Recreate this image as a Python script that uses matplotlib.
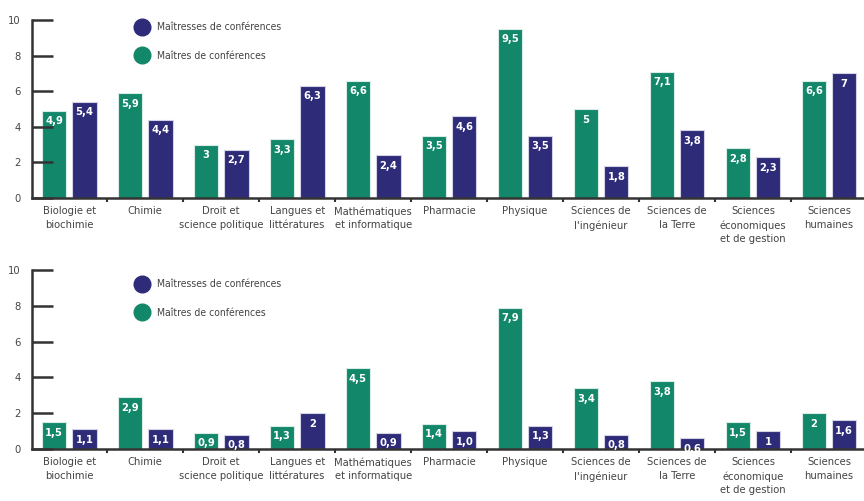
import numpy as np
from matplotlib import pyplot as plt
from matplotlib.lines import Line2D

plt.rcParams['font.family'] = ['DejaVu Sans']
plt.rcParams['font.stretch'] = 'condensed'

categories_top = [
    "Biologie et\nbiochimie", "Chimie", "Droit et\nscience politique",
    "Langues et\nlittératures", "Mathématiques\net informatique",
    "Pharmacie", "Physique", "Sciences de\nl'ingénieur",
    "Sciences de\nla Terre", "Sciences\néconomiques\net de gestion",
    "Sciences\nhumaines",
]
categories_bottom = categories_top[:9] + [
    "Sciences\néconomique\net de gestion", "Sciences\nhumaines"]

maitres_top = [4.9, 5.9, 3.0, 3.3, 6.6, 3.5, 9.5, 5.0, 7.1, 2.8, 6.6]
maitresses_top = [5.4, 4.4, 2.7, 6.3, 2.4, 4.6, 3.5, 1.8, 3.8, 2.3, 7.0]
maitres_top_lbl = ["4,9", "5,9", "3", "3,3", "6,6", "3,5", "9,5", "5",
                   "7,1", "2,8", "6,6"]
maitresses_top_lbl = ["5,4", "4,4", "2,7", "6,3", "2,4", "4,6", "3,5",
                      "1,8", "3,8", "2,3", "7"]

maitres_bot = [1.5, 2.9, 0.9, 1.3, 4.5, 1.4, 7.9, 3.4, 3.8, 1.5, 2.0]
maitresses_bot = [1.1, 1.1, 0.8, 2.0, 0.9, 1.0, 1.3, 0.8, 0.6, 1.0, 1.6]
maitres_bot_lbl = ["1,5", "2,9", "0,9", "1,3", "4,5", "1,4", "7,9", "3,4",
                   "3,8", "1,5", "2"]
maitresses_bot_lbl = ["1,1", "1,1", "0,8", "2", "0,9", "1,0", "1,3", "0,8",
                      "0,6", "1", "1,6"]

GREEN = "#13876a"
NAVY = "#2e2b78"
AXC = "#333333"
TXT = "#444444"

fig = plt.figure(figsize=(8.64, 5.01), dpi=100)
ax1 = fig.add_axes([32 / 864, 1 - 198 / 501, 1 - 32 / 864, 178 / 501])
ax2 = fig.add_axes([32 / 864, 1 - 449 / 501, 1 - 32 / 864, 179 / 501])


def draw(ax, cats, green, navy, glbl, nlbl, leg_y):
    x = np.arange(len(cats))
    w = 0.32
    ax.bar(x - 0.2, green, w, color=GREEN, edgecolor="#d8ece6", linewidth=0.8)
    ax.bar(x + 0.2, navy, w, color=NAVY, edgecolor="#d4d3e6", linewidth=0.8)
    for xi, v, s in zip(x, green, glbl):
        ax.annotate(s, (xi - 0.2, v), xytext=(0, -4), textcoords="offset points",
                    ha="center", va="top", color="white", fontsize=8,
                    fontweight="bold")
    for xi, v, s in zip(x, navy, nlbl):
        ax.annotate(s, (xi + 0.2, v), xytext=(0, -4), textcoords="offset points",
                    ha="center", va="top", color="white", fontsize=8,
                    fontweight="bold")
    ax.set_xlim(-0.49, 10.46)
    ax.set_ylim(0, 10)
    ax.set_yticks([0, 2, 4, 6, 8, 10])
    ax.tick_params(axis="y", direction="in", length=15, width=1.8, color=AXC,
                   labelsize=8, labelcolor=TXT, pad=8)
    ax.set_xticks(x)
    ax.set_xticklabels(cats, fontsize=8, color=TXT, linespacing=1.45)
    ax.tick_params(axis="x", length=0, pad=6)
    ax.set_xticks(x[:-1] + 0.5, minor=True)
    ax.tick_params(axis="x", which="minor", direction="out", length=3,
                   width=1.5, color=AXC)
    for s in ["top", "right"]:
        ax.spines[s].set_visible(False)
    for s in ["left", "bottom"]:
        ax.spines[s].set_color(AXC)
        ax.spines[s].set_linewidth(1.8)
    handles = [
        Line2D([], [], marker="o", ls="", markersize=12, color=NAVY),
        Line2D([], [], marker="o", ls="", markersize=12, color=GREEN),
    ]
    ax.legend(handles, ["Maîtresses de conférences", "Maîtres de conférences"],
              loc="upper left", bbox_to_anchor=(0.108, leg_y), frameon=False,
              fontsize=7.5, labelspacing=1.8, handletextpad=0.5,
              labelcolor=TXT)


draw(ax1, categories_top, maitres_top, maitresses_top,
     maitres_top_lbl, maitresses_top_lbl, 1.04)
draw(ax2, categories_bottom, maitres_bot, maitresses_bot,
     maitres_bot_lbl, maitresses_bot_lbl, 1.0)

plt.savefig("out.png", dpi=100)
